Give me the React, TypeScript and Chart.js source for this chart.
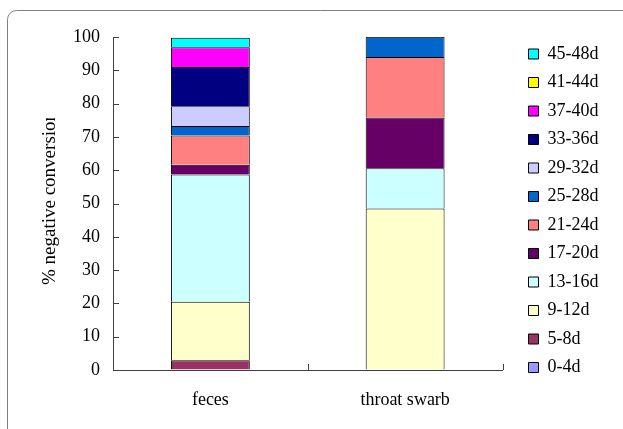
import { useEffect, useRef } from "react";
import { Chart, registerables } from "chart.js";

Chart.register(...registerables);

const categories = ["feces", "throat swarb"];
const seriesLabels = [
  "0-4d", "5-8d", "9-12d", "13-16d", "17-20d", "21-24d",
  "25-28d", "29-32d", "33-36d", "37-40d", "41-44d", "45-48d",
];
const fecesValues = [0, 2.9, 17.6, 38.2, 2.9, 8.8, 2.9, 5.9, 11.8, 5.9, 0, 2.9];
const throatValues = [0, 0, 48.5, 12.1, 15.2, 18.2, 6.1, 0, 0, 0, 0, 0];
const seriesColors = [
  "#9999FF", "#993366", "#FFFFCC", "#CCFFFF", "#660066", "#FF8080",
  "#0066CC", "#CCCCFF", "#000080", "#FF00FF", "#FFFF00", "#00FFFF",
];
const yAxisTitle = "% negative conversion";
const yMin = 0;
const yMax = 100;
const yStep = 10;

const FONT = '"Liberation Serif", "Times New Roman", serif';
const AXIS_COLOR = "#404040";
const LEGEND_FONT = 18;
const LEGEND_PAD = 10.5;
const LEGEND_BOX = 10;

const decor = {
  id: "decor",
  beforeDraw(chart: any) {
    const ctx = chart.ctx;
    ctx.save();
    ctx.strokeStyle = "#808080";
    ctx.lineWidth = 1;
    const r = 9;
    ctx.beginPath();
    ctx.moveTo(7.5, chart.height + 5);
    ctx.lineTo(7.5, 10.5 + r);
    ctx.arcTo(7.5, 10.5, 7.5 + r, 10.5, r);
    ctx.lineTo(chart.width + 5, 10.5);
    ctx.stroke();
    ctx.restore();
  },
  afterDraw(chart: any) {
    const { ctx, chartArea } = chart;
    const ys = chart.scales.y;
    const xs = chart.scales.x;
    ctx.save();
    ctx.strokeStyle = AXIS_COLOR;
    ctx.lineWidth = 1;
    ctx.beginPath();
    ys.ticks.forEach((t: any) => {
      const py = Math.round(ys.getPixelForValue(t.value)) + 0.5;
      ctx.moveTo(chartArea.left, py);
      ctx.lineTo(chartArea.left + 6, py);
    });
    const n = categories.length;
    for (let i = 0; i <= n; i++) {
      let px;
      if (i === 0) px = chartArea.left;
      else if (i === n) px = chartArea.right;
      else px = (xs.getPixelForValue(i - 1) + xs.getPixelForValue(i)) / 2;
      px = Math.round(px) + 0.5;
      ctx.moveTo(px, chartArea.bottom);
      ctx.lineTo(px, chartArea.bottom - 6);
    }
    ctx.stroke();

    ctx.save();
    ctx.beginPath();
    ctx.rect(0, chartArea.top + 81, chart.width, chart.height);
    ctx.clip();
    ctx.translate(50, chartArea.bottom - 85);
    ctx.rotate(-Math.PI / 2);
    ctx.font = `19px ${FONT}`;
    ctx.fillStyle = "#000";
    ctx.textAlign = "left";
    ctx.textBaseline = "middle";
    ctx.fillText(yAxisTitle, 0, 0);
    ctx.restore();
    ctx.restore();
  },
};

export default function App() {
  const canvasRef = useRef<HTMLCanvasElement | null>(null);

  useEffect(() => {
    const canvas = canvasRef.current;
    if (!canvas) return;

    const mctx = document.createElement("canvas").getContext("2d")!;
    mctx.font = `${LEGEND_FONT}px ${FONT}`;
    let maxW = 0;
    seriesLabels.forEach((l) => {
      maxW = Math.max(maxW, mctx.measureText(l).width);
    });
    const legendW = 2 * LEGEND_PAD + LEGEND_BOX + LEGEND_FONT / 2 + maxW;
    const legendLeft = 517.5;
    const padRight = Math.max(0, 623 - legendLeft - legendW);

    const datasets = seriesLabels.map((label, i) => ({
      label,
      data: [fecesValues[i], throatValues[i]],
      backgroundColor: seriesColors[i],
      borderColor: "#000000",
      borderWidth: 1,
      barPercentage: 0.405,
      categoryPercentage: 1,
    }));

    const chart = new Chart(canvas, {
      type: "bar",
      data: { labels: categories, datasets },
      plugins: [decor],
      options: {
        responsive: false,
        animation: false,
        layout: { padding: { top: 34.5, left: 0, right: padRight, bottom: 0 } },
        plugins: {
          tooltip: { enabled: false },
          legend: {
            position: "right",
            align: "start",
            reverse: true,
            labels: {
              boxWidth: LEGEND_BOX,
              boxHeight: LEGEND_BOX,
              padding: LEGEND_PAD,
              color: "#000",
              font: { family: FONT, size: LEGEND_FONT },
            },
          },
        },
        scales: {
          x: {
            stacked: true,
            grid: { display: true, drawOnChartArea: false, drawTicks: false },
            border: { display: true, color: AXIS_COLOR, width: 1 },
            ticks: { color: "#000", font: { family: FONT, size: 18 }, padding: 19, maxRotation: 0 },
            afterFit: (s: any) => { s.height = 59; },
          },
          x2: {
            type: "category",
            position: "top",
            display: true,
            grid: { display: false },
            border: { display: false },
            ticks: { display: false },
            afterFit: (s: any) => { s.height = 2.5; },
          },
          y: {
            stacked: true,
            min: yMin,
            max: yMax,
            grid: { display: true, drawOnChartArea: false, drawTicks: false },
            border: { display: true, color: AXIS_COLOR, width: 1 },
            ticks: { stepSize: yStep, color: "#000", font: { family: FONT, size: 18 }, padding: 13 },
            afterFit: (s: any) => { s.width = 113; },
          },
          y2: {
            type: "linear",
            position: "right",
            display: true,
            grid: { display: false },
            border: { display: false },
            ticks: { display: false },
            afterFit: (s: any) => { s.width = 15.5; },
          },
        },
      } as any,
    });

    return () => chart.destroy();
  }, []);

  return (
    <div style={{ position: "fixed", left: 0, top: 0, width: 623, height: 429, background: "#fff" }}>
      <canvas ref={canvasRef} width={623} height={429} style={{ display: "block" }} />
    </div>
  );
}
